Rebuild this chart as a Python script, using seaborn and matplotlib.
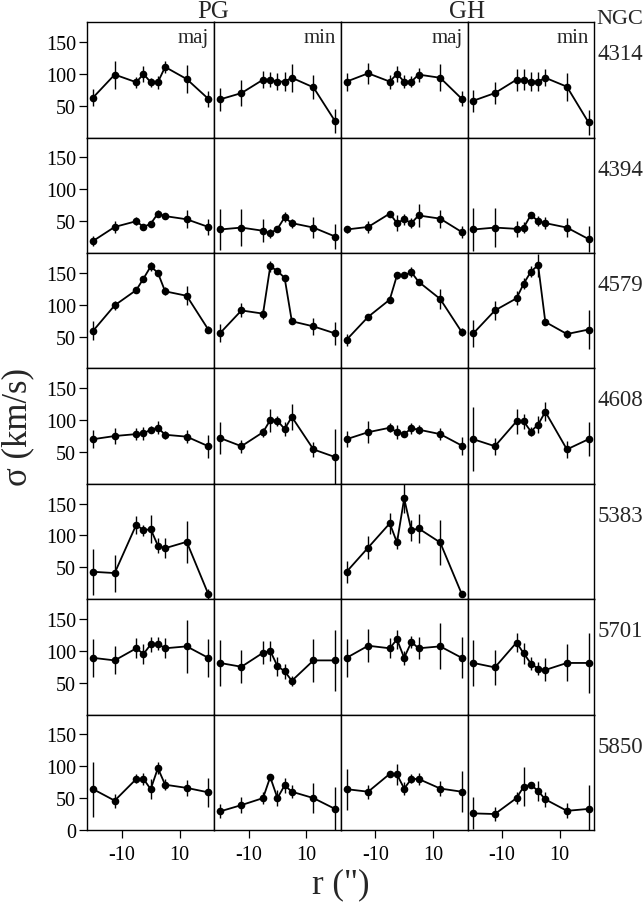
import numpy as np
import pandas as pd
import matplotlib

matplotlib.use("Agg")
import matplotlib.pyplot as plt
import seaborn as sns

# Radial sampling (arcsec) shared by every slit
r_pts = [-20, -12.5, -5, -2.5, 0, 2.5, 5, 12.5, 20]

galaxies = ["4314", "4394", "4579", "4608", "5383", "5701", "5850"]
slits = ["PG maj", "PG min", "GH maj", "GH min"]

# sigma (km/s) and error per galaxy / slit
s4314_pg_maj = [63, 99, 87, 100, 87, 87, 111, 92, 61]
e4314_pg_maj = [13, 22, 9, 12, 7, 10, 10, 22, 13]
s4314_pg_min = [60, 70, 91, 91, 88, 88, 94, 79, 26]
e4314_pg_min = [18, 20, 13, 12, 13, 15, 22, 19, 19]
s4314_gh_maj = [88, 101, 88, 100, 88, 88, 99, 94, 61]
e4314_gh_maj = [14, 16, 11, 12, 10, 9, 11, 21, 12]
s4314_gh_min = [58, 70, 91, 91, 88, 88, 94, 80, 24]
e4314_gh_min = [17, 17, 17, 16, 15, 15, 13, 22, 20]

s4394_pg_maj = [19, 41, 50, 41, 46, 62, 58, 53, 41]
e4394_pg_maj = [8, 10, 6, 4, 4, 5, 4, 14, 12]
s4394_pg_min = [37, 40, 35, 31, 38, 56, 47, 40, 26]
e4394_pg_min = [32, 29, 18, 7, 5, 8, 7, 17, 20]
s4394_gh_maj = [37, 41, 62, 47, 53, 47, 59, 54, 33]
e4394_gh_maj = [6, 10, 4, 12, 9, 8, 18, 14, 9]
s4394_gh_min = [37, 40, 38, 40, 60, 50, 47, 40, 22]
e4394_gh_min = [33, 31, 12, 9, 5, 8, 9, 15, 20]

s4579_pg_maj = [59, 99, 123, 141, 160, 150, 121, 114, 61]
e4579_pg_maj = [15, 7, 5, 4, 7, 5, 6, 15, 5]
s4579_pg_min = [55, 91, 86, 160, 153, 142, 74, 66, 55]
e4579_pg_min = [14, 11, 8, 9, 4, 5, 5, 13, 18]
s4579_gh_maj = [45, 81, 108, 146, 146, 151, 136, 109, 57]
e4579_gh_maj = [9, 4, 5, 5, 4, 8, 5, 16, 6]
s4579_gh_min = [55, 91, 110, 133, 152, 162, 73, 54, 61]
e4579_gh_min = [21, 15, 11, 9, 8, 18, 5, 7, 30]

s4608_pg_maj = [70, 75, 78, 79, 85, 88, 77, 74, 59]
e4608_pg_maj = [14, 12, 10, 10, 5, 10, 6, 10, 18]
s4608_pg_min = [72, 59, 81, 100, 99, 86, 105, 54, 42]
e4608_pg_min = [25, 10, 7, 18, 8, 11, 20, 12, 44]
s4608_gh_maj = [70, 81, 88, 81, 78, 87, 85, 78, 60]
e4608_gh_maj = [13, 17, 7, 11, 5, 9, 7, 10, 14]
s4608_gh_min = [70, 59, 98, 98, 82, 93, 113, 54, 70]
e4608_gh_min = [50, 13, 20, 12, 7, 13, 15, 13, 27]

s5383_pg_maj = [43, 41, 117, 108, 110, 84, 80, 90, 8]
e5383_pg_maj = [36, 29, 14, 9, 22, 12, 16, 33, 8]
s5383_gh_maj = [43, 81, 119, 89, 158, 108, 111, 89, 8]
e5383_gh_maj = [17, 18, 17, 10, 22, 16, 23, 36, 5]

s5701_pg_maj = [89, 85, 104, 95, 110, 111, 104, 107, 89]
e5701_pg_maj = [30, 22, 16, 15, 12, 10, 16, 42, 30]
s5701_pg_min = [81, 75, 97, 100, 76, 68, 53, 85, 85]
e5701_pg_min = [36, 26, 18, 16, 15, 12, 8, 34, 48]
s5701_gh_maj = [89, 108, 104, 118, 89, 114, 104, 107, 89]
e5701_gh_maj = [30, 26, 16, 15, 11, 9, 17, 36, 32]
s5701_gh_min = [81, 74, 113, 96, 80, 72, 70, 81, 81]
e5701_gh_min = [36, 27, 15, 17, 10, 10, 18, 29, 47]

s5850_pg_maj = [64, 46, 80, 80, 64, 97, 71, 66, 59]
e5850_pg_maj = [43, 11, 7, 10, 16, 9, 9, 13, 23]
s5850_pg_min = [29, 39, 50, 83, 50, 70, 60, 50, 33]
e5850_pg_min = [11, 13, 10, 4, 12, 12, 10, 23, 35]
s5850_gh_maj = [64, 60, 88, 87, 65, 80, 80, 65, 60]
e5850_gh_maj = [32, 11, 4, 16, 10, 7, 10, 12, 32]
s5850_gh_min = [26, 25, 50, 68, 71, 61, 48, 30, 33]
e5850_gh_min = [25, 11, 10, 30, 4, 16, 12, 12, 37]

panels = [
    ("4314", "PG maj", s4314_pg_maj, e4314_pg_maj),
    ("4314", "PG min", s4314_pg_min, e4314_pg_min),
    ("4314", "GH maj", s4314_gh_maj, e4314_gh_maj),
    ("4314", "GH min", s4314_gh_min, e4314_gh_min),
    ("4394", "PG maj", s4394_pg_maj, e4394_pg_maj),
    ("4394", "PG min", s4394_pg_min, e4394_pg_min),
    ("4394", "GH maj", s4394_gh_maj, e4394_gh_maj),
    ("4394", "GH min", s4394_gh_min, e4394_gh_min),
    ("4579", "PG maj", s4579_pg_maj, e4579_pg_maj),
    ("4579", "PG min", s4579_pg_min, e4579_pg_min),
    ("4579", "GH maj", s4579_gh_maj, e4579_gh_maj),
    ("4579", "GH min", s4579_gh_min, e4579_gh_min),
    ("4608", "PG maj", s4608_pg_maj, e4608_pg_maj),
    ("4608", "PG min", s4608_pg_min, e4608_pg_min),
    ("4608", "GH maj", s4608_gh_maj, e4608_gh_maj),
    ("4608", "GH min", s4608_gh_min, e4608_gh_min),
    ("5383", "PG maj", s5383_pg_maj, e5383_pg_maj),
    ("5383", "GH maj", s5383_gh_maj, e5383_gh_maj),
    ("5701", "PG maj", s5701_pg_maj, e5701_pg_maj),
    ("5701", "PG min", s5701_pg_min, e5701_pg_min),
    ("5701", "GH maj", s5701_gh_maj, e5701_gh_maj),
    ("5701", "GH min", s5701_gh_min, e5701_gh_min),
    ("5850", "PG maj", s5850_pg_maj, e5850_pg_maj),
    ("5850", "PG min", s5850_pg_min, e5850_pg_min),
    ("5850", "GH maj", s5850_gh_maj, e5850_gh_maj),
    ("5850", "GH min", s5850_gh_min, e5850_gh_min),
]

rows = []
for gal, slit, sig, err in panels:
    for r, s, e in zip(r_pts, sig, err):
        rows.append({"galaxy": gal, "slit": slit, "r": r, "sigma": s, "err": e})
df = pd.DataFrame(rows)

# Style
sns.set_theme(style="ticks")
plt.rcParams["font.family"] = ["Liberation Serif", "DejaVu Serif"]
plt.rcParams["axes.unicode_minus"] = False

fig, axes = plt.subplots(7, 4, figsize=(6.44, 9.04), dpi=100)
fig.subplots_adjust(left=0.1356, right=0.9228, top=0.9742, bottom=0.0808,
                    wspace=0, hspace=0)

for i, gal in enumerate(galaxies):
    for j, slit in enumerate(slits):
        ax = axes[i, j]
        sub = df[(df["galaxy"] == gal) & (df["slit"] == slit)]
        if len(sub):
            ax.errorbar(sub["r"], sub["sigma"], yerr=sub["err"], fmt="none",
                        ecolor="black", elinewidth=1.0, capsize=0)
            sns.lineplot(data=sub, x="r", y="sigma", ax=ax, color="black",
                         marker="o", markersize=5.5, markeredgewidth=0,
                         linewidth=1.3, errorbar=None)
        ax.set_xlim(-22, 22)
        ax.set_ylim(0, 181)
        ax.set_xlabel("")
        ax.set_ylabel("")
        for sp in ax.spines.values():
            sp.set_visible(True)
            sp.set_color("black")
            sp.set_linewidth(1.0)

        ax.set_yticks([0, 50, 100, 150] if i == 6 else [50, 100, 150])
        ax.set_xticks([-10, 10])
        ax.tick_params(direction="out", length=6, width=0.9, colors="black",
                       labelsize=14.5, pad=2,
                       left=(j == 0), labelleft=(j == 0),
                       bottom=(i == 6), labelbottom=(i == 6))
        ax.tick_params(axis="x", pad=5)

        if i == 0:
            ax.text(0.96, 0.955, slit.split()[1], transform=ax.transAxes,
                    ha="right", va="top", fontsize=15)

# Column group titles, galaxy names and axis labels
fig.text(213.3 / 644, 1 - 17.5 / 904, "PG", ha="center", va="baseline", fontsize=18)
fig.text(467.3 / 644, 1 - 17.5 / 904, "GH", ha="center", va="baseline", fontsize=18)
fig.text(596 / 644, 1 - 23.5 / 904, "NGC", ha="left", va="baseline", fontsize=16)
row_h = (831 - 23.3) / 7
for i, gal in enumerate(galaxies):
    y = 23.3 + i * row_h + 37
    fig.text(598 / 644, 1 - y / 904, gal, ha="left", va="baseline", fontsize=16.5)

fig.text(18 / 644, 1 - 427 / 904, "σ (km/s)", rotation=90, ha="center",
         va="center", fontsize=25)
fig.text(341 / 644, 1 - 885 / 904, 'r (")', ha="center", va="center", fontsize=25)

fig.savefig("out.png", dpi=100)
